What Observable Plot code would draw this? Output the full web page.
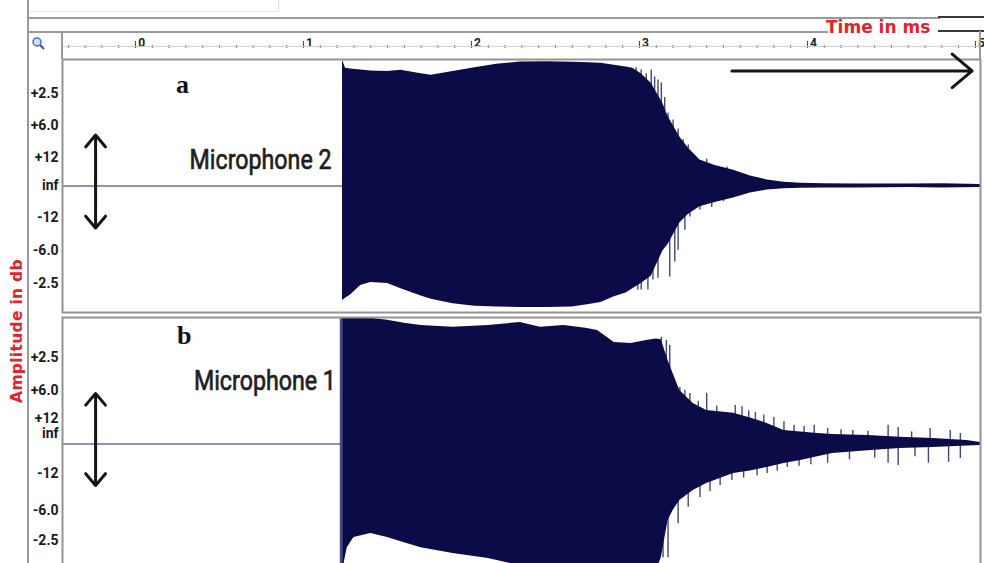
<!DOCTYPE html>
<html><head><meta charset="utf-8">
<script src="https://cdn.jsdelivr.net/npm/d3@7"></script>
<script src="https://cdn.jsdelivr.net/npm/@observablehq/plot@0.6"></script>
<style>
html,body{margin:0;padding:0;background:#fff;overflow:hidden;}
#wrap{position:relative;width:984px;height:563px;overflow:hidden;background:#fff;}
#wrap svg{position:absolute;left:0;top:0;}
.hl{position:absolute;height:0;border-top:2px solid #9a9a9a;}
.vl{position:absolute;width:0;border-left:2px solid #9a9a9a;}
#timeLabel{position:absolute;left:826px;top:18px;font:bold 17px "DejaVu Sans",sans-serif;color:#e3222b;line-height:18px;}
#ampLabel{position:absolute;left:17px;top:331px;transform:translate(-50%,-50%) rotate(-90deg);font:bold 15.5px "DejaVu Sans",sans-serif;letter-spacing:0.3px;color:#e3222b;white-space:nowrap;}
</style></head><body><div id="wrap"></div>
<script>
// ---------- data ----------
const panels = ["a", "b"];
const micNames = ["Microphone 2", "Microphone 1"];

// Microphone 2 (panel a): time in ms, upper / lower envelope (display units, ±4 = full scale)
const mic2Time  = [1.232,1.25,1.28,1.34,1.40,1.50,1.58,1.70,1.76,1.89,2.02,2.15,2.29,2.45,2.60,2.70,2.77,2.85,2.92,2.96,3.01,3.07,3.14,3.17,3.24,3.29,3.36,3.45,3.56,3.66,3.76,3.86,3.96,4.10,4.30,4.60,4.80,5.03];
const mic2Upper = [3.98,3.72,3.70,3.67,3.64,3.62,3.66,3.55,3.50,3.62,3.74,3.85,3.92,3.93,3.91,3.90,3.88,3.82,3.76,3.72,3.55,3.25,2.60,2.20,1.55,1.20,0.82,0.65,0.50,0.32,0.19,0.12,0.09,0.07,0.06,0.06,0.07,0.05];
const mic2Lower = [-3.62,-3.55,-3.45,-3.15,-3.05,-3.08,-3.25,-3.48,-3.58,-3.72,-3.80,-3.83,-3.84,-3.84,-3.83,-3.75,-3.68,-3.50,-3.38,-3.25,-3.08,-2.85,-2.05,-1.85,-1.17,-0.90,-0.66,-0.52,-0.38,-0.22,-0.13,-0.09,-0.07,-0.06,-0.06,-0.05,-0.06,-0.05];
const mic2SpikeTime  = [2.98,3.01,3.04,3.07,3.09,3.11,3.13,3.15,3.17,3.20,3.23,3.26,3.29,3.32,3.40,3.47,3.52,2.99,3.01,3.05,3.08,3.11,3.18,3.21,3.23,3.27,3.30,3.36,3.43,3.50];
const mic2SpikeValue = [3.74,3.67,3.55,3.67,3.45,3.35,3.26,2.80,2.31,2.09,1.80,1.46,1.30,0.89,0.85,0.62,0.60,-3.30,-3.29,-3.29,-2.97,-2.92,-2.88,-2.40,-2.03,-1.40,-0.98,-0.76,-0.68,-0.50];

// Microphone 1 (panel b)
const mic1Time  = [1.235,1.26,1.30,1.40,1.50,1.60,1.70,1.89,2.10,2.29,2.41,2.55,2.68,2.75,2.80,2.85,2.95,3.05,3.10,3.13,3.17,3.20,3.24,3.32,3.40,3.56,3.66,3.76,3.86,3.96,4.06,4.15,4.36,4.55,4.75,4.95,5.03];
const mic1Upper = [3.98,3.98,3.98,3.98,3.91,3.82,3.75,3.69,3.75,3.84,3.69,3.75,3.66,3.59,3.40,3.21,3.18,3.28,3.32,3.30,2.64,2.23,1.69,1.28,1.06,0.97,0.82,0.65,0.43,0.38,0.33,0.30,0.27,0.21,0.17,0.11,0.05];
const mic1Lower = [-3.95,-3.28,-2.96,-2.83,-2.96,-3.12,-3.28,-3.46,-3.62,-3.85,-4.0,-4.0,-4.0,-4.0,-4.0,-4.0,-4.0,-4.0,-4.0,-3.60,-2.42,-2.10,-1.79,-1.47,-1.25,-0.93,-0.85,-0.74,-0.62,-0.52,-0.40,-0.30,-0.21,-0.14,-0.11,-0.06,-0.05];
const mic1SpikeTime  = [3.13,3.16,3.18,3.24,3.27,3.30,3.35,3.40,3.46,3.57,3.61,3.65,3.69,3.74,3.80,3.86,3.92,3.98,4.04,4.12,4.20,4.27,4.36,4.48,4.54,4.62,4.73,4.85,4.91,3.14,3.17,3.23,3.29,3.36,3.42,3.48,3.55,3.62,3.70,3.76,3.82,3.88,3.95,4.02,4.12,4.25,4.40,4.48,4.54,4.64,4.72,4.84,4.91];
const mic1SpikeValue = [3.37,3.28,3.12,1.79,1.70,1.60,1.35,1.60,1.20,1.22,1.18,1.05,1.00,0.92,0.84,0.70,0.59,0.55,0.59,0.49,0.45,0.43,0.40,0.59,0.52,0.38,0.49,0.43,0.33,-3.6,-3.6,-2.52,-2.00,-1.69,-1.50,-1.31,-1.15,-1.08,-1.00,-0.93,-0.85,-0.74,-0.70,-0.66,-0.61,-0.50,-0.45,-0.61,-0.68,-0.40,-0.61,-0.58,-0.46];
const mic1OnsetTime = [1.226];
const mic1OnsetLower = [-3.85];
const mic1OnsetUpper = [3.98];

// ruler (time in ms) and amplitude tick labels
const rulerMajor = [0, 1, 2, 3, 4, 5];
const rulerMinor = d3.range(-4, 51).map(i => i / 10);
const yTickLabels = ["+2.5", "+6.0", "+12", "inf", "-12", "-6.0", "-2.5"];
const yTickPosA = [2.93, 1.91, 0.90, 0.0, -0.99, -2.04, -3.08];
const yTickPosB = [2.74, 1.70, 0.82, 0.32, -0.93, -2.10, -3.05];

// annotations (data coordinates: time ms, amplitude units)
const letterT = [0.28, 0.29], letterU = [3.2, 3.43];
const micLabelT = [0.744, 0.77], micLabelU = [0.82, 1.98];
const dblArrowT = [-0.238, -0.238], dblArrowTop = [1.61, 1.60], dblArrowBottom = [-1.33, -1.31];
const timeArrow = {t1: 3.55, t2: 4.98, u: 3.64};

// ---------- tables ----------
const wave = [
  ...mic2Time.map((t, i) => ({panel: "a", t, up: mic2Upper[i], lo: mic2Lower[i]})),
  ...mic1Time.map((t, i) => ({panel: "b", t, up: mic1Upper[i], lo: mic1Lower[i]}))
];
const spikes = [
  ...mic2SpikeTime.map((t, i) => ({panel: "a", t, v: mic2SpikeValue[i]})),
  ...mic1SpikeTime.map((t, i) => ({panel: "b", t, v: mic1SpikeValue[i]}))
];
const onset = mic1OnsetTime.map((t, i) => ({panel: "b", t, lo: mic1OnsetLower[i], up: mic1OnsetUpper[i]}));
const yTicks = [
  ...yTickLabels.map((label, i) => ({panel: "a", pos: yTickPosA[i], label})),
  ...yTickLabels.map((label, i) => ({panel: "b", pos: yTickPosB[i], label}))
];
const letters = panels.map((p, i) => ({panel: p, t: letterT[i], u: letterU[i], text: p}));
const micLabels = panels.map((p, i) => ({panel: p, t: micLabelT[i], u: micLabelU[i], text: micNames[i]}));
const arrows = [];
panels.forEach((p, i) => {
  const mid = (dblArrowTop[i] + dblArrowBottom[i]) / 2;
  arrows.push({panel: p, x1: dblArrowT[i], x2: dblArrowT[i], y1: mid, y2: dblArrowTop[i]});
  arrows.push({panel: p, x1: dblArrowT[i], x2: dblArrowT[i], y1: mid, y2: dblArrowBottom[i]});
});
const hArrow = [{panel: "a", x1: timeArrow.t1, x2: timeArrow.t2, y1: timeArrow.u, y2: timeArrow.u}];
const zeroLines = panels.map(p => ({panel: p}));

const waveColor = "#0b0b47";
const chart = Plot.plot({
  width: 984, height: 572,
  marginLeft: 62, marginRight: 4, marginTop: 58, marginBottom: 2,
  style: {background: "transparent", fontFamily: "'Roboto',sans-serif"},
  x: {domain: [-0.435, 5.03], axis: null},
  y: {domain: [-4, 4], axis: null},
  fy: {domain: panels, axis: null, paddingInner: 0.02, paddingOuter: 0},
  marks: [
    Plot.ruleY(zeroLines, {y: () => 0, fy: "panel", stroke: "#6d6da3", strokeWidth: 1.6}),
    Plot.ruleX(spikes, {x: "t", y1: () => 0, y2: "v", fy: "panel", stroke: "#45457a", strokeWidth: 1.4}),
    Plot.ruleX(onset, {x: "t", y1: "lo", y2: "up", fy: "panel", stroke: "#4d4d84", strokeWidth: 3.5}),
    Plot.areaY(wave, {x: "t", y1: "lo", y2: "up", fy: "panel", fill: waveColor, curve: "linear"}),
    Plot.frame({stroke: "#939393", strokeWidth: 2}),
    Plot.text(yTicks, {y: "pos", fy: "panel", text: "label", frameAnchor: "left", textAnchor: "end", dx: -4,
      fontWeight: "bold", fontSize: 14, fill: "#1a1a1a"}),
    Plot.text(letters, {x: "t", y: "u", fy: "panel", text: "text", fontFamily: "'Liberation Serif',serif",
      fontWeight: "bold", fontSize: 26, fill: "#111"}),
    Plot.text(micLabels, {x: "t", y: "u", fy: "panel", text: "text", fontSize: 28, fill: "#1e1e1e", stroke: "#1e1e1e", strokeWidth: 0.7}),
    Plot.arrow(arrows, {x1: "x1", y1: "y1", x2: "x2", y2: "y2", fy: "panel", bend: 0, stroke: "#151515",
      strokeWidth: 3, headLength: 11, headAngle: 80}),
    Plot.arrow(hArrow, {x1: "x1", y1: "y1", x2: "x2", y2: "y2", fy: "panel", bend: 0, stroke: "#151515",
      strokeWidth: 3, headLength: 13, headAngle: 80}),
    Plot.axisX(rulerMinor, {anchor: "top", tickSize: 3, tickFormat: () => "", dy: -12, stroke: "#666", label: null}),
    Plot.axisX(rulerMajor, {anchor: "top", tickSize: 7, tickFormat: () => "", dy: -12, stroke: "#444", label: null}),
    Plot.axisX(rulerMajor, {anchor: "top", tickSize: 0, tickPadding: 1, dy: -12, dx: 6, fontWeight: "bold",
      fontSize: 12, fill: "#222", tickFormat: d => String(d), label: null})
  ]
});

// condense the microphone labels to the narrow face used in the reference
chart.querySelectorAll("text").forEach(el => {
  if (micNames.includes(el.textContent)) {
    el.setAttribute("textLength", "142");
    el.setAttribute("lengthAdjust", "spacingAndGlyphs");
  }
});

const wrap = document.getElementById("wrap");
wrap.appendChild(chart);

// application chrome around the chart
function line(cls, style) { const d = document.createElement("div"); d.className = cls; d.setAttribute("style", style); wrap.appendChild(d); }
line("hl", "left:28px;top:11px;width:250px;border-top:1px solid #e4e4e4;");
line("vl", "left:278px;top:0;height:12px;border-left:1px solid #e8e0d0;");
line("hl", "left:28px;top:17px;width:912px;");
line("hl", "left:28px;top:31px;width:800px;");
line("hl", "left:938px;top:16px;width:46px;border-top:2.5px solid #3a3a3a;");
line("hl", "left:938px;top:30px;width:46px;border-top:2.5px solid #3a3a3a;");
line("vl", "left:27px;top:0;height:563px;");
line("vl", "left:61px;top:31px;height:28px;");
line("vl", "left:979px;top:31px;height:28px;");
line("hl", "left:63px;top:46px;width:916px;border-top:1px solid #cfcfcf;");

const t = document.createElement("div"); t.id = "timeLabel"; t.textContent = "Time in ms"; wrap.appendChild(t);
const a = document.createElement("div"); a.id = "ampLabel"; a.textContent = "Amplitude in db"; wrap.appendChild(a);
const icon = document.createElementNS("http://www.w3.org/2000/svg", "svg");
icon.setAttribute("width", "16"); icon.setAttribute("height", "16");
icon.setAttribute("style", "position:absolute;left:31px;top:36px;");
icon.innerHTML = '<circle cx="6" cy="6" r="4" fill="#cfe0f5" stroke="#3b6fc4" stroke-width="1.5"/><line x1="9" y1="9" x2="13" y2="13" stroke="#3b4fa0" stroke-width="2"/>';
wrap.appendChild(icon);
</script></body></html>
